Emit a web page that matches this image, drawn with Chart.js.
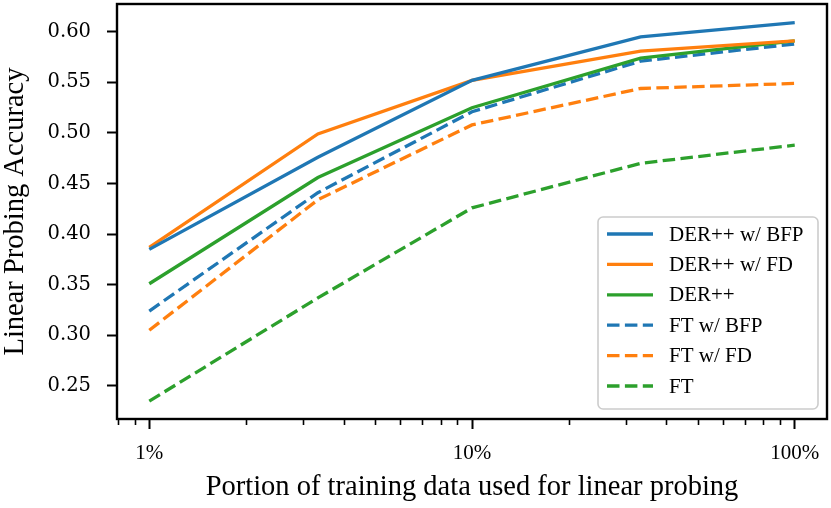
<!DOCTYPE html>
<html>
<head>
<meta charset="utf-8">
<script src="https://cdn.jsdelivr.net/npm/chart.js@4/dist/chart.umd.min.js"></script>
<style>
  html, body { margin: 0; padding: 0; background: #fff; }
  #wrap { width: 831px; height: 508px; }
</style>
</head>
<body>
<div id="wrap"><canvas id="myChart" width="831" height="508"></canvas></div>
<script>
// data (x in percent of training data)
var portions = [1, 3.33, 10, 33.3, 100];
var derBfp = [0.385, 0.476, 0.552, 0.595, 0.609];
var derFd = [0.387, 0.499, 0.552, 0.581, 0.591];
var der = [0.351, 0.456, 0.525, 0.574, 0.591];
var ftBfp = [0.324, 0.441, 0.521, 0.571, 0.588];
var ftFd = [0.305, 0.434, 0.508, 0.544, 0.549];
var ft = [0.235, 0.337, 0.426, 0.470, 0.488];

var xTicks = [1, 10, 100];
var yTicks = [0.25, 0.30, 0.35, 0.40, 0.45, 0.50, 0.55, 0.60];

var azul = "#1f77b4", naranja = "#ff7f0e", verde = "#2ca02c";
var rayas = [12.5, 5.4];

function serie(label, valores, color, dash) {
  return {
    label: label,
    data: portions.map(function (p, i) { return { x: p, y: valores[i] }; }),
    borderColor: color,
    backgroundColor: color,
    borderWidth: 3.3,
    borderDash: dash,
    pointRadius: 0,
    tension: 0,
    fill: false,
  };
}

// minor ticks on log axis + full frame (spines drawn above lines like matplotlib)
const marco = {
  id: "marco",
  afterDatasetsDraw(chart) {
    const ctx = chart.ctx, a = chart.chartArea, sx = chart.scales.x;
    ctx.save();
    ctx.strokeStyle = "#000";
    ctx.lineWidth = 1.6;
    for (let d = 0.1; d <= 100; d *= 10) {
      for (let k = 2; k <= 9; k++) {
        const v = Math.round(d * k * 1000) / 1000;
        if (v < sx.min || v > sx.max || xTicks.indexOf(v) >= 0) continue;
        const px = Math.round(sx.getPixelForValue(v)) + 0.5;
        ctx.beginPath();
        ctx.moveTo(px, a.bottom);
        ctx.lineTo(px, a.bottom + 6);
        ctx.stroke();
      }
    }
    ctx.lineWidth = 2.4;
    ctx.strokeRect(a.left, a.top, a.right - a.left, a.bottom - a.top);
    ctx.restore();
  },
};

// legend box in lower right of the axes
const leyenda = {
  id: "leyenda",
  afterDatasetsDraw(chart) {
    const ctx = chart.ctx, a = chart.chartArea;
    const w = 220, h = 192;
    const x0 = a.right - 9 - w, y0 = a.bottom - 10 - h;
    ctx.save();
    ctx.beginPath();
    ctx.roundRect(x0, y0, w, h, 5);
    ctx.fillStyle = "rgba(255,255,255,0.8)";
    ctx.fill();
    ctx.strokeStyle = "#cccccc";
    ctx.lineWidth = 1.6;
    ctx.stroke();
    ctx.font = "21px 'Liberation Serif', 'Times New Roman', serif";
    ctx.textBaseline = "middle";
    ctx.textAlign = "left";
    chart.data.datasets.forEach(function (ds, i) {
      const y = y0 + 17 + i * 30.4;
      ctx.beginPath();
      ctx.setLineDash(ds.borderDash || []);
      ctx.strokeStyle = ds.borderColor;
      ctx.lineWidth = 3.3;
      ctx.moveTo(x0 + 9, y);
      ctx.lineTo(x0 + 55, y);
      ctx.stroke();
      ctx.setLineDash([]);
      ctx.fillStyle = "#000";
      ctx.fillText(ds.label, x0 + 71, y + 1);
    });
    ctx.restore();
  },
};

const config = {
  type: "line",
  data: {
    datasets: [
      serie("DER++ w/ BFP", derBfp, azul, []),
      serie("DER++ w/ FD", derFd, naranja, []),
      serie("DER++", der, verde, []),
      serie("FT w/ BFP", ftBfp, azul, rayas),
      serie("FT w/ FD", ftFd, naranja, rayas),
      serie("FT", ft, verde, rayas),
    ],
  },
  options: {
    responsive: false,
    animation: false,
    layout: { padding: { left: 0, top: 4, right: 4, bottom: 0 } },
    plugins: { legend: { display: false }, tooltip: { enabled: false } },
    scales: {
      x: {
        type: "logarithmic",
        position: "bottom",
        min: Math.pow(10, -0.1),
        max: Math.pow(10, 2.1),
        afterBuildTicks: function (s) { s.ticks = xTicks.map(function (v) { return { value: v }; }); },
        afterFit: function (s) { s.height = 89; s.paddingLeft = 0; s.paddingRight = 0; },
        border: { display: false },
        grid: { drawOnChartArea: false, drawTicks: true, tickLength: 10, tickWidth: 2, color: "#000" },
        ticks: {
          autoSkip: false,
          maxRotation: 0,
          padding: 12,
          color: "#000",
          font: { family: "'Liberation Serif', 'Times New Roman', serif", size: 21 },
          callback: function (v) { return v + "%"; },
        },
        title: {
          display: true,
          text: "Portion of training data used for linear probing",
          color: "#000",
          font: { family: "'Liberation Serif', 'Times New Roman', serif", size: 28.5, lineHeight: 1 },
          padding: { top: 0, bottom: 6 },
        },
      },
      y: {
        type: "linear",
        min: 0.2173,
        max: 0.6275,
        afterBuildTicks: function (s) { s.ticks = yTicks.map(function (v) { return { value: v }; }); },
        afterFit: function (s) { s.width = 117; s.paddingTop = 0; s.paddingBottom = 0; },
        border: { display: false },
        grid: { drawOnChartArea: false, drawTicks: true, tickLength: 10, tickWidth: 2, color: "#000" },
        ticks: {
          padding: 16,
          color: "#000",
          font: { family: "'DejaVu Serif', serif", size: 19.5 },
          callback: function (v) { return v.toFixed(2); },
        },
        title: {
          display: true,
          text: "Linear Probing Accuracy",
          color: "#000",
          font: { family: "'Liberation Serif', 'Times New Roman', serif", size: 28.5, lineHeight: 1 },
          padding: { top: 1, bottom: 0 },
        },
      },
    },
  },
  plugins: [marco, leyenda],
};

var myChart = new Chart(document.getElementById("myChart"), config);
</script>
</body>
</html>
